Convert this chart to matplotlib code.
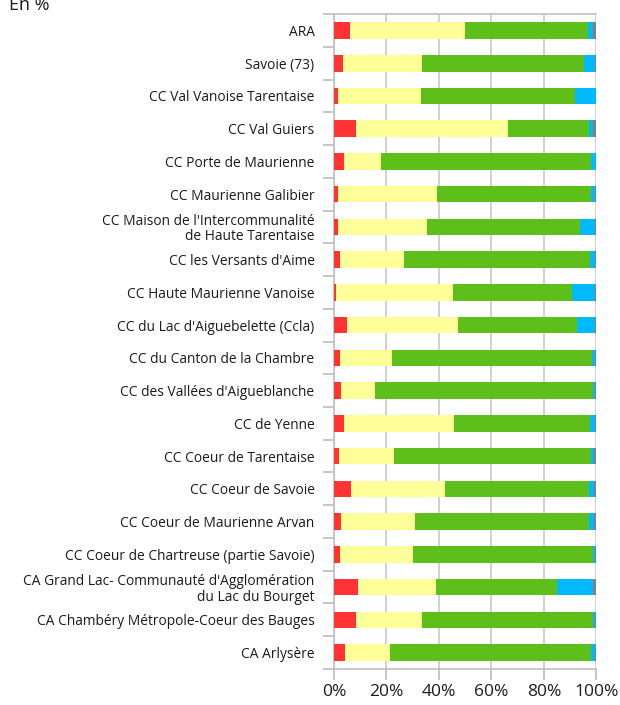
import numpy as np
import matplotlib
matplotlib.use('Agg')
import matplotlib.pyplot as plt

plt.rcParams['font.family'] = ['Open Sans', 'DejaVu Sans']

categories = [
    "ARA",
    "Savoie (73)",
    "CC Val Vanoise Tarentaise",
    "CC Val Guiers",
    "CC Porte de Maurienne",
    "CC Maurienne Galibier",
    "CC Maison de l'Intercommunalité\nde Haute Tarentaise",
    "CC les Versants d'Aime",
    "CC Haute Maurienne Vanoise",
    "CC du Lac d'Aiguebelette (Ccla)",
    "CC du Canton de la Chambre",
    "CC des Vallées d'Aigueblanche",
    "CC de Yenne",
    "CC Coeur de Tarentaise",
    "CC Coeur de Savoie",
    "CC Coeur de Maurienne Arvan",
    "CC Coeur de Chartreuse (partie Savoie)",
    "CA Grand Lac- Communauté d'Agglomération\ndu Lac du Bourget",
    "CA Chambéry Métropole-Coeur des Bauges",
    "CA Arlysère",
]

red = [6.2, 3.6, 1.7, 8.5, 3.9, 1.7, 1.7, 2.4, 0.8, 5.1, 2.4, 2.8, 3.9, 2.0, 6.6, 2.8, 2.4, 9.3, 8.2, 4.3]
yellow = [43.6, 29.8, 31.3, 57.7, 14.2, 37.4, 33.6, 24.1, 44.4, 42.0, 19.9, 13.0, 41.7, 20.7, 35.9, 27.9, 27.9, 29.4, 25.2, 17.2]
green = [46.9, 61.8, 58.8, 31.0, 79.9, 58.9, 58.3, 71.0, 45.4, 45.5, 76.0, 82.9, 51.9, 75.4, 54.7, 66.5, 68.6, 46.3, 65.3, 76.5]
blue = [2.0, 4.3, 7.9, 1.5, 1.7, 1.5, 5.9, 2.0, 9.0, 7.0, 1.2, 0.8, 2.0, 0.9, 1.8, 1.8, 0.7, 13.7, 0.8, 1.5]
grey = [1.3, 0.5, 0.3, 1.3, 0.3, 0.5, 0.5, 0.5, 0.4, 0.4, 0.5, 0.5, 0.5, 1.0, 1.0, 1.0, 0.4, 1.3, 0.5, 0.5]

series = [red, yellow, green, blue, grey]
colors = ['#ff3333', '#ffff99', '#5fbf1a', '#00b9ff', '#808080']

fig = plt.figure(figsize=(6.2, 7.05), dpi=100)
ax = fig.add_axes([0.5387, 0.0511, 0.4231, 0.929])

y = np.arange(len(categories))
left = np.zeros(len(categories))
for vals, col in zip(series, colors):
    vals = np.array(vals)
    ax.barh(y, vals, left=left, height=0.51, color=col, zorder=3)
    left += vals

ax.set_xlim(0, 100)
ax.set_ylim(len(categories) - 0.5, -0.5)
ax.set_xticks(np.arange(0, 101, 20))
ax.set_xticklabels([f'{v}%' for v in range(0, 101, 20)], fontsize=12.5, color='#1a1a1a')
ax.set_yticks(y)
ax.set_yticklabels(categories, fontsize=9.9, color='#1a1a1a', linespacing=1.05)
ax.set_yticks(np.arange(-0.5, len(categories), 1), minor=True)
ax.tick_params(axis='y', which='major', length=0, pad=14)
ax.tick_params(axis='y', which='minor', length=8, color='#bbbbbb', width=1.2)
ax.tick_params(axis='x', length=8, color='#bbbbbb', width=1.2, pad=3)

ax.grid(axis='x', color='#c8c8c8', linewidth=1.2, zorder=0)
for s in ['left', 'bottom', 'top']:
    ax.spines[s].set_color('#c0c0c0')
    ax.spines[s].set_linewidth(1.2)
ax.spines['right'].set_visible(False)

fig.text(0.015, 0.993, 'En %', fontsize=13, ha='left', va='center', color='#1a1a1a')

fig.savefig('out.png', dpi=100)
